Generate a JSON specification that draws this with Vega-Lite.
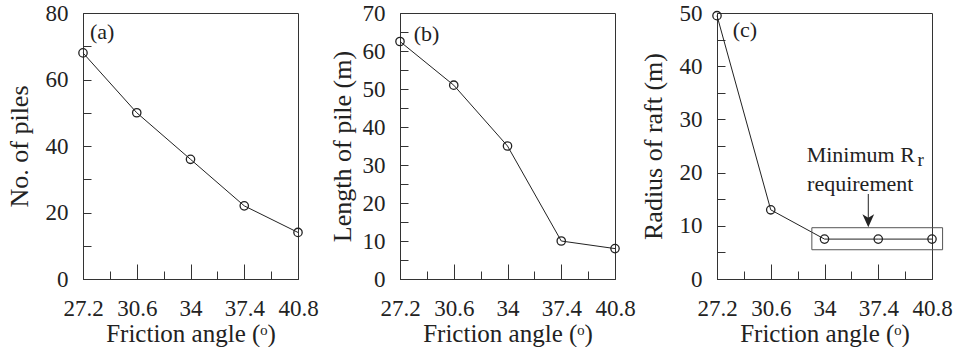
{
  "$schema": "https://vega.github.io/schema/vega-lite/v6.json",
  "padding": {"left": 5, "top": 1, "right": 0, "bottom": 0},
  "background": "white",
  "spacing": 102,
  "bounds": "flush",
  "config": {
    "font": "Liberation Serif",
    "view": {"stroke": "#333", "strokeWidth": 1},
    "axis": {
      "grid": false,
      "domainColor": "#333",
      "tickColor": "#333",
      "labelColor": "#222",
      "titleColor": "#222",
      "labelFont": "Liberation Serif",
      "titleFont": "Liberation Serif",
      "labelFontSize": 23,
      "titleFontWeight": "normal",
      "labelOverlap": false,
      "labelFlush": false,
      "tickSize": -8
    },
    "axisX": {"labelPadding": 33, "titlePadding": -6, "titleFontSize": 25},
    "axisY": {"labelPadding": 23, "titlePadding": 13, "titleFontSize": 26}
  },
  "datasets": {
    "piles": [
      {"angle": 27.2, "value": 68},
      {"angle": 30.6, "value": 50},
      {"angle": 34, "value": 36},
      {"angle": 37.4, "value": 22},
      {"angle": 40.8, "value": 14}
    ],
    "length": [
      {"angle": 27.2, "value": 62.5},
      {"angle": 30.6, "value": 51},
      {"angle": 34, "value": 35},
      {"angle": 37.4, "value": 10},
      {"angle": 40.8, "value": 8}
    ],
    "raft": [
      {"angle": 27.2, "value": 49.5},
      {"angle": 30.6, "value": 13},
      {"angle": 34, "value": 7.5},
      {"angle": 37.4, "value": 7.5},
      {"angle": 40.8, "value": 7.5}
    ]
  },
  "hconcat": [
    {
      "width": 215,
      "height": 266,
      "data": {"name": "piles"},
      "encoding": {
        "x": {"field": "angle", "type": "quantitative", "title": "Friction angle (ᵒ)",
          "scale": {"domain": [27.2, 40.8], "nice": false, "zero": false},
          "axis": {"values": [27.2, 28.9, 30.6, 32.3, 34, 35.7, 37.4, 39.1, 40.8],
            "labelExpr": "indexof([27.2,30.6,34,37.4,40.8], datum.value) >= 0 ? format(datum.value, '~g') : ''",
            "tickSize": {"condition": {"test": "indexof([27.2,30.6,34,37.4,40.8], datum.value) >= 0", "value": -15}, "value": -8}}},
        "y": {"field": "value", "type": "quantitative", "title": "No. of piles",
          "scale": {"domain": [0, 80], "nice": false},
          "axis": {"values": [0, 10, 20, 30, 40, 50, 60, 70, 80],
            "labelExpr": "datum.value % 20 == 0 ? format(datum.value, '~g') : ''"}}
      },
      "layer": [
        {"mark": {"type": "line", "color": "#222", "strokeWidth": 1}},
        {"mark": {"type": "point", "shape": "circle", "size": 70, "filled": false, "stroke": "#222", "strokeWidth": 1.3, "opacity": 1}},
        {
          "data": {"values": [{"angle": 27.64, "value": 74.3, "t": "(a)"}]},
          "mark": {"type": "text", "align": "left", "baseline": "middle", "fontSize": 22, "color": "#222"},
          "encoding": {"text": {"field": "t"}}
        }
      ]
    },
    {
      "width": 215,
      "height": 266,
      "data": {"name": "length"},
      "encoding": {
        "x": {"field": "angle", "type": "quantitative", "title": "Friction angle (ᵒ)",
          "scale": {"domain": [27.2, 40.8], "nice": false, "zero": false},
          "axis": {"values": [27.2, 28.9, 30.6, 32.3, 34, 35.7, 37.4, 39.1, 40.8],
            "labelExpr": "indexof([27.2,30.6,34,37.4,40.8], datum.value) >= 0 ? format(datum.value, '~g') : ''",
            "tickSize": {"condition": {"test": "indexof([27.2,30.6,34,37.4,40.8], datum.value) >= 0", "value": -15}, "value": -8}}},
        "y": {"field": "value", "type": "quantitative", "title": "Length of pile (m)",
          "scale": {"domain": [0, 70], "nice": false},
          "axis": {"values": [0, 5, 10, 15, 20, 25, 30, 35, 40, 45, 50, 55, 60, 65, 70],
            "titlePadding": 7,
            "labelExpr": "datum.value % 10 == 0 ? format(datum.value, '~g') : ''"}}
      },
      "layer": [
        {"mark": {"type": "line", "color": "#222", "strokeWidth": 1}},
        {"mark": {"type": "point", "shape": "circle", "size": 70, "filled": false, "stroke": "#222", "strokeWidth": 1.3, "opacity": 1}},
        {
          "data": {"values": [{"angle": 28.07, "value": 64.5, "t": "(b)"}]},
          "mark": {"type": "text", "align": "left", "baseline": "middle", "fontSize": 22, "color": "#222"},
          "encoding": {"text": {"field": "t"}}
        }
      ]
    },
    {
      "width": 215,
      "height": 266,
      "data": {"name": "raft"},
      "encoding": {
        "x": {"field": "angle", "type": "quantitative", "title": "Friction angle (ᵒ)",
          "scale": {"domain": [27.2, 40.8], "nice": false, "zero": false},
          "axis": {"values": [27.2, 28.9, 30.6, 32.3, 34, 35.7, 37.4, 39.1, 40.8],
            "labelExpr": "indexof([27.2,30.6,34,37.4,40.8], datum.value) >= 0 ? format(datum.value, '~g') : ''",
            "tickSize": {"condition": {"test": "indexof([27.2,30.6,34,37.4,40.8], datum.value) >= 0", "value": -15}, "value": -8}}},
        "y": {"field": "value", "type": "quantitative", "title": "Radius of raft (m)",
          "scale": {"domain": [0, 50], "nice": false},
          "axis": {"values": [0, 5, 10, 15, 20, 25, 30, 35, 40, 45, 50],
            "labelExpr": "datum.value % 10 == 0 ? format(datum.value, '~g') : ''"}}
      },
      "layer": [
        {"mark": {"type": "line", "color": "#222", "strokeWidth": 1}},
        {"mark": {"type": "point", "shape": "circle", "size": 70, "filled": false, "stroke": "#222", "strokeWidth": 1.3, "opacity": 1}},
        {
          "data": {"values": [{"angle": 33.2, "angle2": 41.47, "value": 5.5, "value2": 9.64}]},
          "mark": {"type": "rect", "fillOpacity": 0, "stroke": "#555", "strokeWidth": 1},
          "encoding": {"x2": {"field": "angle2"}, "y2": {"field": "value2"}}
        },
        {
          "data": {"values": [{"angle": 36.77, "value": 15.98, "value2": 10.8}]},
          "mark": {"type": "rule", "color": "#222", "strokeWidth": 1},
          "encoding": {"y2": {"field": "value2"}}
        },
        {
          "data": {"values": [{"angle": 36.77, "value": 10.94}]},
          "mark": {"type": "point", "shape": "M0,1 L-0.9,-1 L0,-0.45 L0.9,-1 Z", "size": 169, "filled": true, "color": "#222", "opacity": 1}
        },
        {
          "data": {"values": [
            {"angle": 28.19, "value": 45.5, "t": "(c)"},
            {"angle": 32.87, "value": 21.94, "t": "Minimum R"}
          ]},
          "mark": {"type": "text", "align": "left", "baseline": "alphabetic", "fontSize": 22, "color": "#222"},
          "encoding": {"text": {"field": "t"}}
        },
        {
          "data": {"values": [{"angle": 36.26, "value": 16.6, "t": "requirement"}]},
          "mark": {"type": "text", "align": "center", "baseline": "alphabetic", "fontSize": 22, "color": "#222"},
          "encoding": {"text": {"field": "t"}}
        },
        {
          "data": {"values": [{"angle": 39.89, "value": 21.24, "t": "r"}]},
          "mark": {"type": "text", "align": "left", "baseline": "alphabetic", "fontSize": 19, "color": "#222"},
          "encoding": {"text": {"field": "t"}}
        }
      ]
    }
  ]
}
